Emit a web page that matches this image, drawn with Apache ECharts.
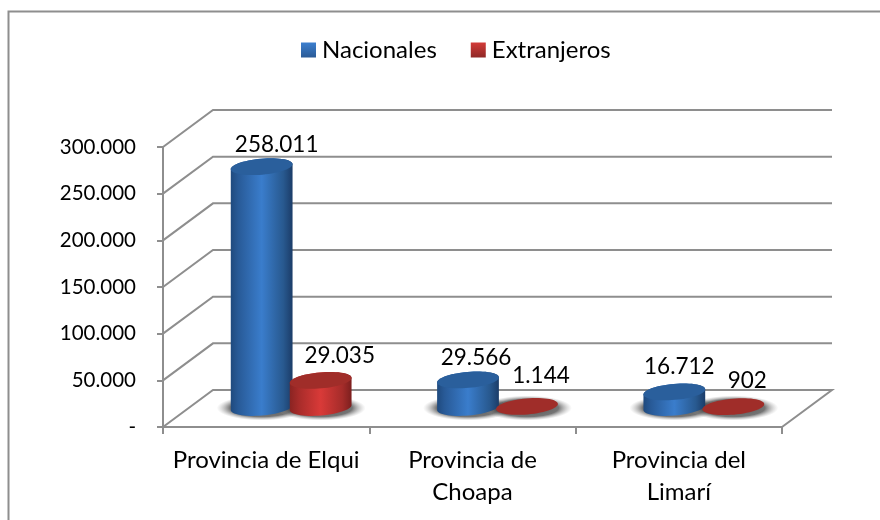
<!DOCTYPE html>
<html>
<head>
<meta charset="utf-8">
<style>html,body{margin:0;padding:0;background:#fff}#c{width:880px;height:520px}</style>
<script src="https://cdn.jsdelivr.net/npm/echarts@6/dist/echarts.min.js"></script>
</head>
<body>
<div id="c"></div>
<script>
var categories = ['Provincia de Elqui', 'Provincia de\nChoapa', 'Provincia del\nLimarí'];
var nacionales = [258011, 29566, 16712];
var extranjeros = [29035, 1144, 902];
var yTicks = [0, 50000, 100000, 150000, 200000, 250000, 300000];

var FONT = 'Lato, Carlito, "Open Sans", sans-serif';
var FS_TEXT = 24, FS_AXIS = 20.5, FS_DATA = 22.5;
var GREY = '#8e8e8e';
var DEPTH = {x: 50, y: -37};
var MID = {x: 25, y: -19.5};
var A = 31, B = 8, ROT = -5 * Math.PI / 180;
var SIDE = 29.5;
var labelNudge = {
  Nacionales: [[15, -22], [8, -22], [5, -25]],
  Extranjeros: [[19, -25], [14, -31], [14, -26]]
};

function fmt(v) {
  return String(v).replace(/\B(?=(\d{3})+(?!\d))/g, '.');
}
function ell(cx, cy, a, b, from, to, n) {
  var p = [];
  for (var i = 0; i <= n; i++) {
    var t = from + (to - from) * i / n;
    p.push([
      cx + a * Math.cos(t) * Math.cos(ROT) - b * Math.sin(t) * Math.sin(ROT),
      cy + a * Math.cos(t) * Math.sin(ROT) + b * Math.sin(t) * Math.cos(ROT)
    ]);
  }
  return p;
}
function hGrad(stops) {
  return {type: 'linear', x: 0, y: 0, x2: 1, y2: 0,
    colorStops: stops.map(function (s) { return {offset: s[0], color: s[1]}; })};
}
var palette = {
  Nacionales: {
    body: hGrad([[0, '#1f4a7e'], [0.12, '#285a97'], [0.5, '#3a7dcc'], [0.85, '#28598f'], [1, '#1b3c68']]),
    top: '#2a5f9c',
    swatch: {type: 'linear', x: 0, y: 0, x2: 0, y2: 1, colorStops: [{offset: 0, color: '#3c7fcf'}, {offset: 1, color: '#2a5a96'}]}
  },
  Extranjeros: {
    body: hGrad([[0, '#8a2422'], [0.15, '#a82c2a'], [0.5, '#d93a38'], [0.85, '#a52c2a'], [1, '#7c1f1e']]),
    top: '#a02d29',
    swatch: {type: 'linear', x: 0, y: 0, x2: 0, y2: 1, colorStops: [{offset: 0, color: '#d33b38'}, {offset: 1, color: '#8f2826'}]}
  }
};
function barCenter(api, sign) {
  var base = api.coord([api.value(0), 0]);
  var top = api.coord([api.value(0), api.value(1)]);
  return {x: base[0] + MID.x + sign * SIDE, by: base[1] + MID.y, ty: top[1] + MID.y};
}
function cylinder(name, sign) {
  return function (params, api) {
    var c = barCenter(api, sign), pal = palette[name];
    var nudge = labelNudge[name][params.dataIndex];
    var children = [];
    if (c.by - c.ty > 3) {
      var pts = ell(c.x, c.by, A, B, 0, Math.PI, 30).concat(ell(c.x, c.ty, A, B, Math.PI, 2 * Math.PI, 30));
      children.push({type: 'polygon', shape: {points: pts}, style: {fill: pal.body}});
    }
    children.push({type: 'polygon', shape: {points: ell(c.x, c.ty, A, B, 0, 2 * Math.PI, 60)}, style: {fill: pal.top}});
    children.push({type: 'text', style: {
      text: fmt(api.value(1)), x: c.x + nudge[0], y: c.ty + nudge[1],
      align: 'center', verticalAlign: 'middle', font: FS_DATA + 'px ' + FONT, fill: '#000'
    }, z2: 10});
    return {type: 'group', children: children};
  };
}
function shadow(sign) {
  return function (params, api) {
    var c = barCenter(api, sign);
    var R = A + 14;
    return {type: 'circle', x: c.x, y: c.by + 0.5, scaleX: 1, scaleY: (B + 4.5) / R, shape: {cx: 0, cy: 0, r: R},
      style: {fill: {type: 'radial', x: 0.5, y: 0.5, r: 0.5, colorStops: [
        {offset: 0, color: 'rgba(60,60,60,0.9)'}, {offset: 0.7, color: 'rgba(70,70,70,0.75)'}, {offset: 1, color: 'rgba(160,160,160,0)'}
      ]}}};
  };
}
function wall(params, api) {
  var cs = params.coordSys, x0 = cs.x, x1 = cs.x + cs.width;
  var v = api.value(0);
  var y = api.coord([0, v])[1];
  var pts = [[x0, y], [x0 + DEPTH.x, y + DEPTH.y], [x1 + DEPTH.x, y + DEPTH.y]];
  if (v === 0) pts.push([x1, y]);
  return {type: 'polyline', shape: {points: pts}, style: {fill: null, stroke: GREY, lineWidth: 2}};
}
function pairs(arr) { return arr.map(function (v, i) { return [i, v]; }); }

var chart = echarts.init(document.getElementById('c'), null, {renderer: 'canvas'});
chart.setOption({
  animation: false,
  backgroundColor: '#fff',
  graphic: [{type: 'rect', shape: {x: 8.5, y: 11.5, width: 1000, height: 800},
    style: {fill: null, stroke: GREY, lineWidth: 2}, silent: true}],
  legend: {
    left: 301, top: 38, padding: 0, itemWidth: 15, itemHeight: 15, itemGap: 34, icon: 'rect',
    textStyle: {fontFamily: FONT, fontSize: FS_TEXT, color: '#000', padding: [0, 0, 0, 1]},
    selectedMode: false,
    data: [
      {name: 'Nacionales', itemStyle: {color: palette.Nacionales.swatch}},
      {name: 'Extranjeros', itemStyle: {color: palette.Extranjeros.swatch}}
    ]
  },
  grid: {left: 163, top: 147, width: 619, height: 280},
  xAxis: {
    type: 'category', data: categories, boundaryGap: true,
    axisLine: {lineStyle: {color: GREY, width: 2}},
    axisTick: {show: true, alignWithLabel: false, length: 7, lineStyle: {color: GREY, width: 2}},
    axisLabel: {fontFamily: FONT, fontSize: FS_TEXT, color: '#000', margin: 17, lineHeight: 32, interval: 0, hideOverlap: false},
    splitLine: {show: false}
  },
  yAxis: {
    type: 'value', min: 0, max: 300000, interval: 50000,
    axisLine: {show: true, lineStyle: {color: GREY, width: 2}},
    axisTick: {show: true, length: 6, lineStyle: {color: GREY, width: 2}},
    axisLabel: {fontFamily: FONT, fontSize: FS_AXIS, color: '#000', margin: 27,
      formatter: function (v) { return v === 0 ? '-' : fmt(v); }},
    splitLine: {show: false}
  },
  series: [
    {type: 'custom', name: 'paredes', silent: true, z: 1, encode: {y: 0}, data: yTicks.map(function (v) { return [v]; }), renderItem: wall},
    {type: 'custom', name: 'sombraN', silent: true, z: 2, data: pairs(nacionales), renderItem: shadow(-1)},
    {type: 'custom', name: 'sombraE', silent: true, z: 2, data: pairs(extranjeros), renderItem: shadow(1)},
    {type: 'custom', name: 'Nacionales', silent: true, z: 3, data: pairs(nacionales), itemStyle: {color: '#2a5f9c'}, renderItem: cylinder('Nacionales', -1)},
    {type: 'custom', name: 'Extranjeros', silent: true, z: 4, data: pairs(extranjeros), itemStyle: {color: '#a02d29'}, renderItem: cylinder('Extranjeros', 1)}
  ]
});
</script>
</body>
</html>
